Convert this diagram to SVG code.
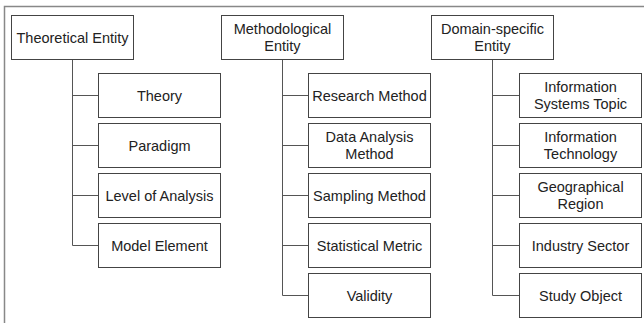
<svg xmlns="http://www.w3.org/2000/svg" width="644" height="323" viewBox="0 0 644 323">
<style>
.box{fill:#fff;stroke:#444;stroke-width:1}
.t{font-family:"Liberation Sans",Arial,sans-serif;font-size:14.5px;fill:#222;text-anchor:middle}
.c{fill:none;stroke:#555;stroke-width:1}
.frame{fill:none;stroke:#888;stroke-width:1.5}
</style>
<rect width="644" height="323" fill="#fff"/>
<path class="frame" d="M644 6.5H4.5V323"/>
<g id="connectors">
<path class="c" d="M72.5 59V245.5M72.5 95.5H98M72.5 145.5H98M72.5 195.5H98M72.5 245.5H98"/>
<path class="c" d="M282.5 59V295.5M282.5 95.5H308M282.5 145.5H308M282.5 195.5H308M282.5 245.5H308M282.5 295.5H308"/>
<path class="c" d="M492.5 59V295.5M492.5 95.5H519M492.5 145.5H519M492.5 195.5H519M492.5 245.5H519M492.5 295.5H519"/>
</g>
<g id="theoretical-entity"><rect class="box" x="11.5" y="15.5" width="122" height="44"/><text class="t" x="72.5" y="42.5">Theoretical Entity</text></g>
<g id="theory"><rect class="box" x="98.5" y="73.5" width="122" height="44"/><text class="t" x="159.5" y="100.5">Theory</text></g>
<g id="paradigm"><rect class="box" x="98.5" y="123.5" width="122" height="44"/><text class="t" x="159.5" y="150.5">Paradigm</text></g>
<g id="level-of-analysis"><rect class="box" x="98.5" y="173.5" width="122" height="44"/><text class="t" x="159.5" y="200.5">Level of Analysis</text></g>
<g id="model-element"><rect class="box" x="98.5" y="223.5" width="122" height="44"/><text class="t" x="159.5" y="250.5">Model Element</text></g>

<g id="methodological-entity"><rect class="box" x="221.5" y="15.5" width="122" height="44"/><text class="t" x="282.5" y="34">Methodological</text><text class="t" x="282.5" y="50.5">Entity</text></g>
<g id="research-method"><rect class="box" x="308.5" y="73.5" width="122" height="44"/><text class="t" x="369.5" y="100.5">Research Method</text></g>
<g id="data-analysis-method"><rect class="box" x="308.5" y="123.5" width="122" height="44"/><text class="t" x="369.5" y="142">Data Analysis</text><text class="t" x="369.5" y="158.5">Method</text></g>
<g id="sampling-method"><rect class="box" x="308.5" y="173.5" width="122" height="44"/><text class="t" x="369.5" y="200.5">Sampling Method</text></g>
<g id="statistical-metric"><rect class="box" x="308.5" y="223.5" width="122" height="44"/><text class="t" x="369.5" y="250.5">Statistical Metric</text></g>
<g id="validity"><rect class="box" x="308.5" y="273.5" width="122" height="44"/><text class="t" x="369.5" y="300.5">Validity</text></g>

<g id="domain-specific-entity"><rect class="box" x="431.5" y="15.5" width="122" height="44"/><text class="t" x="492.5" y="34">Domain-specific</text><text class="t" x="492.5" y="50.5">Entity</text></g>
<g id="information-systems-topic"><rect class="box" x="519.5" y="73.5" width="122" height="44"/><text class="t" x="580.5" y="92">Information</text><text class="t" x="580.5" y="108.5">Systems Topic</text></g>
<g id="information-technology"><rect class="box" x="519.5" y="123.5" width="122" height="44"/><text class="t" x="580.5" y="142">Information</text><text class="t" x="580.5" y="158.5">Technology</text></g>
<g id="geographical-region"><rect class="box" x="519.5" y="173.5" width="122" height="44"/><text class="t" x="580.5" y="192">Geographical</text><text class="t" x="580.5" y="208.5">Region</text></g>
<g id="industry-sector"><rect class="box" x="519.5" y="223.5" width="122" height="44"/><text class="t" x="580.5" y="250.5">Industry Sector</text></g>
<g id="study-object"><rect class="box" x="519.5" y="273.5" width="122" height="44"/><text class="t" x="580.5" y="300.5">Study Object</text></g>
</svg>
